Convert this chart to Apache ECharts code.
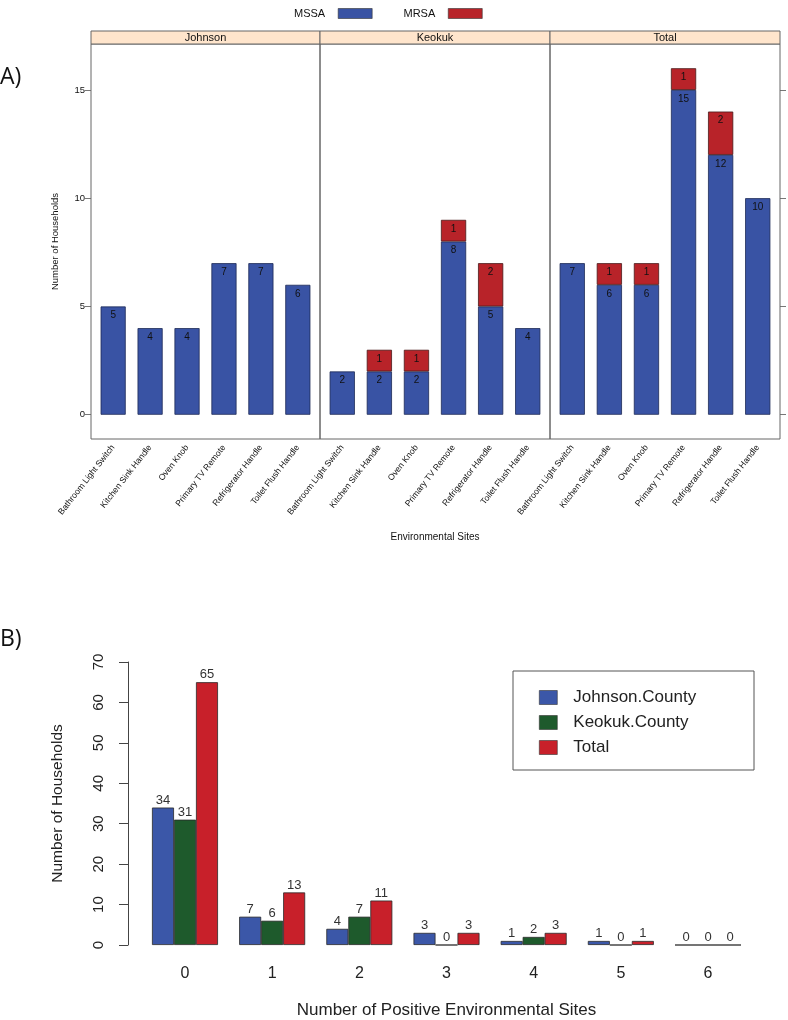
<!DOCTYPE html>
<html>
<head>
<meta charset="utf-8">
<script src="https://cdn.jsdelivr.net/npm/echarts@6/dist/echarts.min.js"></script>
<style>html,body{margin:0;padding:0;background:#fff;}#c{width:788px;height:1020px;}</style>
</head>
<body>
<div id="c"></div>
<script>
// ---------- Panel A data ----------
const sites = ['Bathroom Light Switch','Kitchen Sink Handle','Oven Knob','Primary TV Remote','Refrigerator Handle','Toilet Flush Handle'];
const panels = ['Johnson','Keokuk','Total'];
const mssaJohnson = [5,4,4,7,7,6];
const mrsaJohnson = [0,0,0,0,0,0];
const mssaKeokuk = [2,2,2,8,5,4];
const mrsaKeokuk = [0,1,1,1,2,0];
const mssaTotal = [7,6,6,15,12,10];
const mrsaTotal = [0,1,1,1,2,0];
const yTicksA = [0,5,10,15];

// ---------- Panel B data ----------
const positiveSites = ['0','1','2','3','4','5','6'];
const johnsonCounty = [34,7,4,3,1,1,0];
const keokukCounty = [31,6,7,0,2,0,0];
const totalCounty = [65,13,11,3,3,1,0];
const yTicksB = [0,10,20,30,40,50,60,70];

const chart = echarts.init(document.getElementById('c'), null, {renderer:'canvas'});
const FONT = '"Liberation Sans", Arial, sans-serif';
const BLUE_A = '#3953A4', RED_A = '#B82329';
const BLUE_B = '#3B57A8', GREEN_B = '#1E5A2C', RED_B = '#C8202A';

const panelBoxes = [{x:91,w:229},{x:320,w:230},{x:550,w:230}];
const pTop = 44, pBot = 439;
const mssa = [mssaJohnson, mssaKeokuk, mssaTotal];
const mrsa = [mrsaJohnson, mrsaKeokuk, mrsaTotal];

const grids = [], xAxes = [], yAxes = [], series = [], graphics = [];

panelBoxes.forEach((p, i) => {
  const inset = p.w * 0.1 / 6.2;
  grids.push({left: p.x + inset, width: p.w - 2*inset, top: pTop, height: pBot - pTop});
  xAxes.push({
    type:'category', gridIndex:i, data:sites,
    axisLine:{show:false}, axisTick:{show:false},
    axisLabel:{rotate:52, interval:0, fontSize:8.6, color:'#111', fontFamily:FONT, margin:7}
  });
  yAxes.push({
    type:'value', gridIndex:i, min:-1.12, max:17.12,
    position: i === 2 ? 'right' : 'left',
    offset: inset,
    splitLine:{show:false},
    axisLine:{show:false},
    axisTick:{show: i !== 1, length:6, lineStyle:{color:'#777'}, customValues:yTicksA},
    axisLabel:{show: i === 0, fontSize:9.5, color:'#111', fontFamily:FONT, margin:6, customValues:yTicksA},
    name: i === 0 ? 'Number of Households' : '',
    nameLocation:'middle', nameGap:31,
    nameTextStyle:{fontSize:9.5, color:'#111', fontFamily:FONT}
  });
  series.push({
    name:'MSSA', type:'bar', xAxisIndex:i, yAxisIndex:i, stack:'s'+i, data:mssa[i],
    barWidth:'68%',
    itemStyle:{color:BLUE_A, borderColor:'#1d2a55', borderWidth:0.8},
    label:{show:true, position:'insideTop', distance:4, fontSize:10, color:'#111', fontFamily:FONT}
  });
  series.push({
    name:'MRSA', type:'bar', xAxisIndex:i, yAxisIndex:i, stack:'s'+i,
    data: mrsa[i].map(v => v > 0 ? v : {value:v, itemStyle:{opacity:0}, label:{show:false}}),
    barWidth:'68%',
    itemStyle:{color:RED_A, borderColor:'#4a1a1a', borderWidth:0.8},
    label:{show:true, position:'insideTop', distance:4, fontSize:10, color:'#111', fontFamily:FONT}
  });
  // panel frame
  graphics.push({type:'rect', z:10, shape:{x:p.x, y:pTop, width:p.w, height:pBot-pTop},
    style:{fill:'none', stroke:'#666', lineWidth:1}});
  // strip
  graphics.push({type:'rect', z:10, shape:{x:p.x, y:31, width:p.w, height:13},
    style:{fill:'#FFE5CC', stroke:'#666', lineWidth:1}});
  graphics.push({type:'text', z:11, x:p.x + p.w/2, y:37.5,
    style:{text:panels[i], fill:'#111', font:'11px ' + FONT, align:'center', verticalAlign:'middle'}});
});

// Panel B grid
const gi = 3;
grids.push({left:141.4, right:36.4, top:662, bottom:75});
xAxes.push({
  type:'category', gridIndex:gi, data:positiveSites,
  axisLine:{show:false}, axisTick:{show:false},
  axisLabel:{fontSize:16, color:'#222', fontFamily:FONT, margin:21},
  name:'Number of Positive Environmental Sites', nameLocation:'middle', nameGap:57,
  nameTextStyle:{fontSize:17, color:'#222', fontFamily:FONT}
});
yAxes.push({
  type:'value', gridIndex:gi, min:0, max:70, interval:10, offset:13.4,
  splitLine:{show:false},
  axisLine:{show:true, lineStyle:{color:'#444', width:1}},
  axisTick:{show:true, length:9, lineStyle:{color:'#444'}},
  axisLabel:{rotate:90, fontSize:15, color:'#222', fontFamily:FONT, margin:22,
    customValues:yTicksB},
  name:'Number of Households', nameLocation:'middle', nameGap:62,
  nameTextStyle:{fontSize:15.5, color:'#222', fontFamily:FONT}
});
const mkB = (name, data, color) => ({
  name, type:'bar', xAxisIndex:gi, yAxisIndex:gi, data, barWidth:22, barGap:'0%',
  itemStyle:{color, borderColor:'#2a2a2a', borderWidth:0.8},
  label:{show:true, position:'top', distance:1, fontSize:13, color:'#333', fontFamily:FONT}
});
series.push(mkB('Johnson.County', johnsonCounty, BLUE_B));
series.push(mkB('Keokuk.County', keokukCounty, GREEN_B));
series.push(mkB('Total', totalCounty, RED_B));

// titles / labels
graphics.push({type:'text', x:435, y:537,
  style:{text:'Environmental Sites', fill:'#111', font:'10px ' + FONT, align:'center', verticalAlign:'middle'}});
graphics.push({type:'text', x:0, y:77,
  style:{text:'A)', fill:'#111', font:'23px "Open Sans", sans-serif', align:'left', verticalAlign:'middle'}});
graphics.push({type:'text', x:0, y:639,
  style:{text:'B)', fill:'#111', font:'23px "Open Sans", sans-serif', align:'left', verticalAlign:'middle'}});
graphics.push({type:'rect', shape:{x:513, y:671, width:241, height:99},
  style:{fill:'none', stroke:'#555', lineWidth:1}});

chart.setOption({
  animation:false,
  backgroundColor:'#fff',
  grid:grids, xAxis:xAxes, yAxis:yAxes, series,
  legend:[
    {data:['MSSA','MRSA'], left:289, top:3, align:'right', icon:'rect', itemWidth:34, itemHeight:10, itemGap:31,
     textStyle:{fontSize:11, color:'#111', fontFamily:FONT, padding:[0,8,0,0]},
     itemStyle:{borderWidth:0.6, borderColor:'#333'}},
    {data:['Johnson.County','Keokuk.County','Total'], orient:'vertical', left:534, top:684, icon:'rect',
     itemWidth:18, itemHeight:14, itemGap:8,
     textStyle:{fontSize:17, color:'#222', fontFamily:FONT, padding:[0,0,0,11]},
     itemStyle:{borderWidth:0.6, borderColor:'#333'}}
  ],
  graphic:graphics
});
</script>
</body>
</html>
